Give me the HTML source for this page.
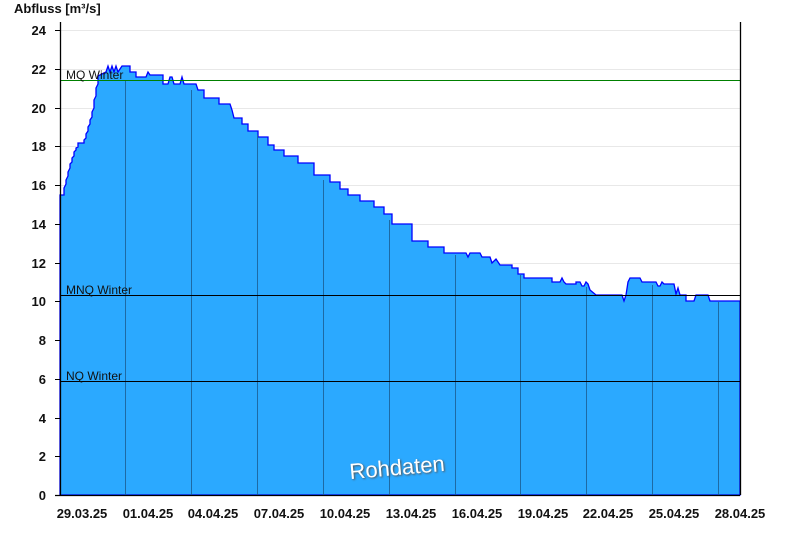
<!DOCTYPE html><html><head><style>body{margin:0;background:#fff}svg{display:block;font-family:"Liberation Sans",sans-serif}</style></head><body>
<svg width="800" height="550" viewBox="0 0 800 550">
<g stroke="#e8e8e8" stroke-width="1">
<line x1="60" x2="740" y1="30.5" y2="30.5"/><line x1="60" x2="740" y1="69.5" y2="69.5"/><line x1="60" x2="740" y1="108.5" y2="108.5"/><line x1="60" x2="740" y1="146.5" y2="146.5"/><line x1="60" x2="740" y1="185.5" y2="185.5"/><line x1="60" x2="740" y1="224.5" y2="224.5"/><line x1="60" x2="740" y1="263.5" y2="263.5"/><line x1="60" x2="740" y1="301.5" y2="301.5"/><line x1="60" x2="740" y1="340.5" y2="340.5"/><line x1="60" x2="740" y1="379.5" y2="379.5"/><line x1="60" x2="740" y1="418.5" y2="418.5"/><line x1="60" x2="740" y1="456.5" y2="456.5"/>
</g>
<polygon fill="#2ba9ff" stroke="#0000ff" stroke-width="1.3" stroke-linejoin="miter" points="60,495 60,195 64,195 64,188 66,184 66,180 68,176 68,172 70,168 70,164 72,162 72,158 74,156 74,152 76,150 76,148 78,147 78,143 84,143 84,140 86,138 86,134 88,131 88,127 90,124 90,120 92,117 92,112 94,108 94,100 96,96 96,88 98,84 98,76 100,75 106,72 108,66 110,72 112,66 114,72 116,66 118,72 122,66 130,66 130,72 136,72 136,77 146,77 148,72 150,75 163,75 163,84 168,84 170,77 172,77 174,84 180,84 182,77 184,84 196,84 198,90 204,90 204,98 219,98 219,104 230,104 232,110 234,118 242,118 242,124 248,124 248,131 258,131 258,137 268,137 268,145 274,145 274,150 284,150 284,156 298,156 298,163 314,163 314,175 330,175 330,182 340,182 340,189 348,189 348,195 360,195 360,201 374,201 374,207 384,207 384,214 392,214 392,224 412,224 412,241 428,241 428,247 444,247 444,253 466,253 468,257 470,253 480,253 482,257 490,257 492,263 496,259 500,265 512,265 512,268 518,268 518,274 524,274 524,278 552,278 552,282 560,282 562,278 564,282 566,284 576,284 576,282 580,282 582,286 584,286 586,282 588,284 590,290 596,295 622,295 624,301 626,295 628,282 630,278 640,278 642,282 656,282 658,286 660,286 662,282 664,284 674,284 676,294 678,288 680,295 686,295 686,301 694,301 696,295 708,295 710,301 740,301 740,495"/>
<g stroke="#1d6aa5" stroke-width="1">
<line x1="125.5" x2="125.5" y1="80" y2="495"/><line x1="191.5" x2="191.5" y1="90" y2="495"/><line x1="257.5" x2="257.5" y1="135" y2="495"/><line x1="323.5" x2="323.5" y1="180" y2="495"/><line x1="389.5" x2="389.5" y1="220" y2="495"/><line x1="455.5" x2="455.5" y1="255" y2="495"/><line x1="520.5" x2="520.5" y1="275" y2="495"/><line x1="586.5" x2="586.5" y1="287" y2="495"/><line x1="652.5" x2="652.5" y1="285" y2="495"/><line x1="718.5" x2="718.5" y1="302" y2="495"/>
</g>
<line x1="60" x2="740" y1="80.5" y2="80.5" stroke="#008000"/>
<line x1="60" x2="740" y1="295.5" y2="295.5" stroke="#000"/>
<line x1="60" x2="740" y1="381.5" y2="381.5" stroke="#000"/>
<g font-size="12" fill="#111"><text x="66" y="79">MQ Winter</text><text x="66" y="294">MNQ Winter</text><text x="66" y="380">NQ Winter</text></g>
<g stroke="#000" stroke-width="1.3"><line x1="60.5" x2="60.5" y1="22" y2="495"/><line x1="740.5" x2="740.5" y1="22" y2="495"/><line x1="55" x2="740" y1="495.5" y2="495.5"/></g>
<g stroke="#000"><line x1="55" x2="60" y1="30.5" y2="30.5"/><line x1="55" x2="60" y1="69.5" y2="69.5"/><line x1="55" x2="60" y1="108.5" y2="108.5"/><line x1="55" x2="60" y1="146.5" y2="146.5"/><line x1="55" x2="60" y1="185.5" y2="185.5"/><line x1="55" x2="60" y1="224.5" y2="224.5"/><line x1="55" x2="60" y1="263.5" y2="263.5"/><line x1="55" x2="60" y1="301.5" y2="301.5"/><line x1="55" x2="60" y1="340.5" y2="340.5"/><line x1="55" x2="60" y1="379.5" y2="379.5"/><line x1="55" x2="60" y1="418.5" y2="418.5"/><line x1="55" x2="60" y1="456.5" y2="456.5"/></g>
<g font-size="13" font-weight="bold" fill="#111" text-anchor="end">
<text x="46" y="35">24</text><text x="46" y="74">22</text><text x="46" y="113">20</text><text x="46" y="151">18</text><text x="46" y="190">16</text><text x="46" y="229">14</text><text x="46" y="268">12</text><text x="46" y="306">10</text><text x="46" y="345">8</text><text x="46" y="384">6</text><text x="46" y="423">4</text><text x="46" y="461">2</text><text x="46" y="500">0</text></g>
<text x="14" y="13" font-size="13" font-weight="bold" fill="#111">Abfluss [m³/s]</text>
<g font-size="13" font-weight="bold" fill="#111" text-anchor="middle">
<text x="82" y="518">29.03.25</text><text x="148" y="518">01.04.25</text><text x="213" y="518">04.04.25</text><text x="279" y="518">07.04.25</text><text x="345" y="518">10.04.25</text><text x="411" y="518">13.04.25</text><text x="477" y="518">16.04.25</text><text x="543" y="518">19.04.25</text><text x="608" y="518">22.04.25</text><text x="674" y="518">25.04.25</text><text x="740" y="518">28.04.25</text></g>
<text x="397" y="475" font-size="22" fill="#fff" text-anchor="middle" transform="rotate(-5 397 467)" style="text-shadow:1px 1px 2px #555">Rohdaten</text>
</svg></body></html>
